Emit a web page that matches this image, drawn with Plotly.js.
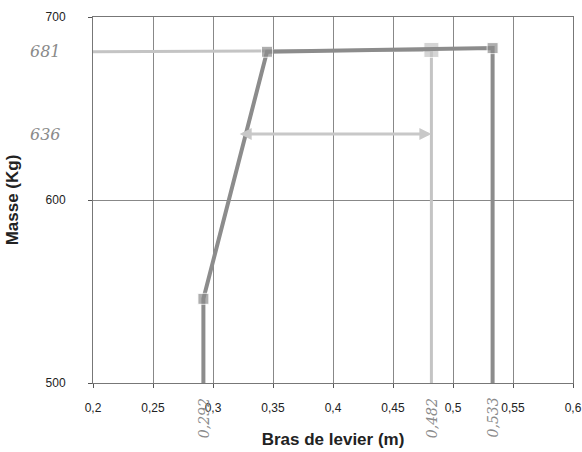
<!DOCTYPE html>
<html><head><meta charset="utf-8">
<script src="https://cdn.plot.ly/plotly-3.0.1.min.js"></script>
<style>html,body{margin:0;padding:0;background:#fff}#chart{width:582px;height:452px}</style>
</head><body><div id="chart"></div>
<script>
const darkX = [0.292, 0.292, 0.345, 0.533, 0.533];
const darkY = [500, 546, 681, 683, 500];
const darkMarkers = [0, 11, 11, 11, 0];
const lightX = [0.2, 0.482, 0.482];
const lightY = [681, 682, 500];
const lightMarkers = [0, 15, 0];
const arrowX = [0.321, 0.482];
const arrowY = 636;
const handY = [681, 636];
const handYLabels = ['681', '636'];
const handX = [0.292, 0.482, 0.533];
const handXLabels = ['0,292', '0,482', '0,533'];

const traces = [
  {x: lightX, y: lightY, mode: 'lines+markers', line: {color: '#c4c4c4', width: 3},
   marker: {symbol: 'square', size: lightMarkers, color: '#c4c4c4'}, hoverinfo: 'none'},
  {x: darkX, y: darkY, mode: 'lines+markers', line: {color: '#8c8c8c', width: 4},
   marker: {symbol: 'square', size: darkMarkers, color: '#8c8c8c'}, hoverinfo: 'none'}
];

const hand = {family: 'DejaVu Serif', size: 16, color: '#8a8a8a'};
const annotations = [];
annotations.push({x: arrowX[1], y: arrowY, ax: arrowX[0], ay: arrowY, axref: 'x', ayref: 'y',
  xref: 'x', yref: 'y', text: '', showarrow: true, arrowhead: 2, arrowside: 'end+start',
  arrowsize: 0.8, arrowwidth: 3, arrowcolor: '#c8c8c8', standoff: 0, startstandoff: 0});
handY.forEach((v, i) => annotations.push({xref: 'paper', yref: 'y', x: -0.063, y: v, xanchor: 'right',
  text: '<i>' + handYLabels[i] + '</i>', showarrow: false, font: hand}));
handX.forEach((v, i) => annotations.push({xref: 'x', yref: 'paper', x: v, y: -0.035, yanchor: 'top',
  textangle: -90, text: '<i>' + handXLabels[i] + '</i>', showarrow: false, font: {...hand, size: 14}}));

const layout = {
  width: 582, height: 452,
  margin: {l: 93, r: 9, t: 17, b: 69},
  paper_bgcolor: '#fff', plot_bgcolor: '#fff',
  separators: ', ',
  showlegend: false,
  font: {family: 'Liberation Sans, Arial, sans-serif', color: '#222'},
  xaxis: {range: [0.2, 0.6], dtick: 0.05, tick0: 0.2, showgrid: true, gridcolor: '#555', gridwidth: 0.7,
    zeroline: false, showline: true, linecolor: '#777', mirror: true, ticks: 'outside', ticklen: 4,
    tickcolor: '#555', tickfont: {size: 12}, ticklabelstandoff: 10,
    title: {text: 'Bras de levier (m)', font: {size: 17, weight: 'bold'}, standoff: 18}},
  yaxis: {range: [500, 700], dtick: 100, showgrid: true, gridcolor: '#555', gridwidth: 0.7,
    zeroline: false, showline: true, linecolor: '#777', mirror: true, ticks: 'outside', ticklen: 4,
    tickcolor: '#555', tickfont: {size: 12}, ticklabelstandoff: 20,
    title: {text: 'Masse (Kg)', font: {size: 17, weight: 'bold'}, standoff: 22}},
  annotations: annotations
};
Plotly.newPlot('chart', traces, layout, {displayModeBar: false, staticPlot: true});
</script></body></html>
